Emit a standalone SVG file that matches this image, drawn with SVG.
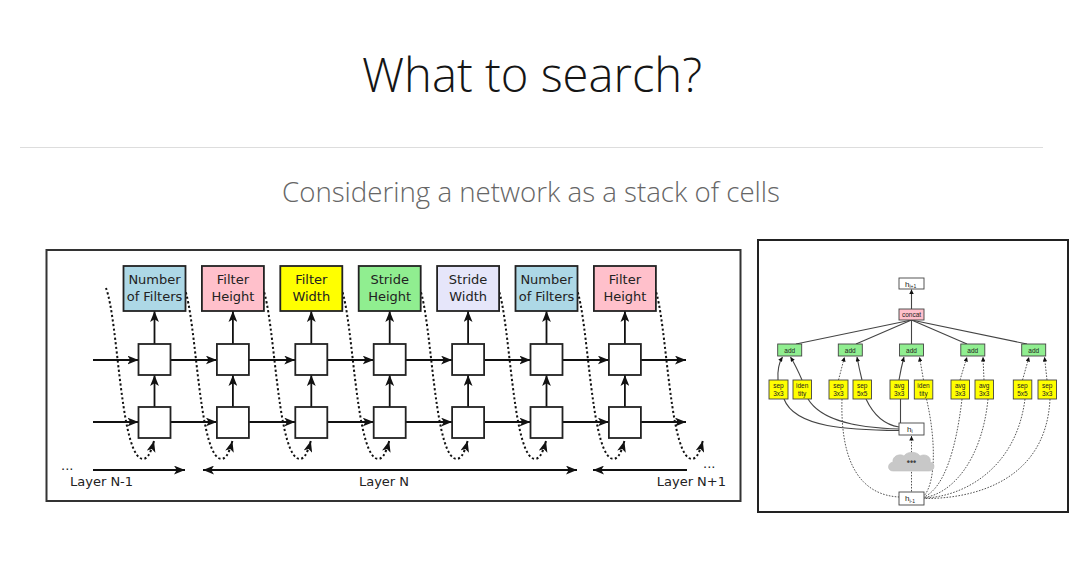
<svg xmlns="http://www.w3.org/2000/svg" width="1080" height="575" viewBox="0 0 1080 575">
<defs>
<style>
.title{font-family:"Open Sans","Liberation Sans",sans-serif;font-weight:300;fill:#151515}
.sub{font-family:"Open Sans","Liberation Sans",sans-serif;font-weight:300;fill:#666}
.bx{stroke:#222;stroke-width:1.8}
.bt{font-family:"DejaVu Sans",sans-serif;font-size:13px;fill:#222;text-anchor:middle}
.cell{fill:#fff;stroke:#222;stroke-width:1.8}
.ln{stroke:#111;stroke-width:1.8;fill:none}
.dot{stroke:#111;stroke-width:2;fill:none;stroke-dasharray:2.2 2.4}
.lt{font-family:"DejaVu Sans",sans-serif;font-size:13px;fill:#222}
.rn{stroke:#444;stroke-width:0.9}
.rt{font-family:"Liberation Sans",Arial,sans-serif;font-size:6.5px;fill:#222;text-anchor:middle}
.rl{stroke:#444;stroke-width:1.1;fill:none}
.rd{stroke:#555;stroke-width:1;fill:none;stroke-dasharray:1.6 1.4}
</style>
<marker id="ah" viewBox="0 0 10 8" refX="10" refY="4" markerWidth="11" markerHeight="9" markerUnits="userSpaceOnUse" orient="auto-start-reverse"><path d="M0,0 L10,4 L0,8 L2.5,4z" fill="#111"/></marker>
<marker id="sa" viewBox="0 0 6 6" refX="6" refY="3" markerWidth="5" markerHeight="4.5" markerUnits="userSpaceOnUse" orient="auto"><path d="M0,0 L6,3 L0,6z" fill="#111"/></marker>
</defs>
<rect width="1080" height="575" fill="#fff"/>
<text class="title" x="362" y="92" font-size="48" textLength="340" lengthAdjust="spacingAndGlyphs">What to search?</text>
<line x1="20" y1="147.5" x2="1043" y2="147.5" stroke="#ddd" stroke-width="1"/>
<text class="sub" x="282" y="202" font-size="27" textLength="498" lengthAdjust="spacingAndGlyphs">Considering a network as a stack of cells</text>

<g id="left-panel">
<rect x="46.5" y="250" width="694" height="251" fill="#fff" stroke="#333" stroke-width="2"/>
</g>

<g id="connectors-left">
<line class="ln" x1="93" y1="360" x2="138.5" y2="360" marker-end="url(#ah)"/>
<line class="ln" x1="170.5" y1="360" x2="216.9" y2="360" marker-end="url(#ah)"/>
<line class="ln" x1="248.9" y1="360" x2="295.3" y2="360" marker-end="url(#ah)"/>
<line class="ln" x1="327.3" y1="360" x2="373.7" y2="360" marker-end="url(#ah)"/>
<line class="ln" x1="405.7" y1="360" x2="452.1" y2="360" marker-end="url(#ah)"/>
<line class="ln" x1="484.1" y1="360" x2="530.5" y2="360" marker-end="url(#ah)"/>
<line class="ln" x1="562.5" y1="360" x2="608.9" y2="360" marker-end="url(#ah)"/>
<line class="ln" x1="640.9" y1="360" x2="686" y2="360" marker-end="url(#ah)"/>
<line class="ln" x1="93" y1="422" x2="138.5" y2="422" marker-end="url(#ah)"/>
<line class="ln" x1="170.5" y1="422" x2="216.9" y2="422" marker-end="url(#ah)"/>
<line class="ln" x1="248.9" y1="422" x2="295.3" y2="422" marker-end="url(#ah)"/>
<line class="ln" x1="327.3" y1="422" x2="373.7" y2="422" marker-end="url(#ah)"/>
<line class="ln" x1="405.7" y1="422" x2="452.1" y2="422" marker-end="url(#ah)"/>
<line class="ln" x1="484.1" y1="422" x2="530.5" y2="422" marker-end="url(#ah)"/>
<line class="ln" x1="562.5" y1="422" x2="608.9" y2="422" marker-end="url(#ah)"/>
<line class="ln" x1="640.9" y1="422" x2="686" y2="422" marker-end="url(#ah)"/>
<line class="ln" x1="154.5" y1="407" x2="154.5" y2="375" marker-end="url(#ah)"/>
<line class="ln" x1="232.9" y1="407" x2="232.9" y2="375" marker-end="url(#ah)"/>
<line class="ln" x1="311.3" y1="407" x2="311.3" y2="375" marker-end="url(#ah)"/>
<line class="ln" x1="389.7" y1="407" x2="389.7" y2="375" marker-end="url(#ah)"/>
<line class="ln" x1="468.1" y1="407" x2="468.1" y2="375" marker-end="url(#ah)"/>
<line class="ln" x1="546.5" y1="407" x2="546.5" y2="375" marker-end="url(#ah)"/>
<line class="ln" x1="624.9" y1="407" x2="624.9" y2="375" marker-end="url(#ah)"/>
<line class="ln" x1="154.5" y1="344" x2="154.5" y2="311" marker-end="url(#ah)"/>
<line class="ln" x1="232.9" y1="344" x2="232.9" y2="311" marker-end="url(#ah)"/>
<line class="ln" x1="311.3" y1="344" x2="311.3" y2="311" marker-end="url(#ah)"/>
<line class="ln" x1="389.7" y1="344" x2="389.7" y2="311" marker-end="url(#ah)"/>
<line class="ln" x1="468.1" y1="344" x2="468.1" y2="311" marker-end="url(#ah)"/>
<line class="ln" x1="546.5" y1="344" x2="546.5" y2="311" marker-end="url(#ah)"/>
<line class="ln" x1="624.9" y1="344" x2="624.9" y2="311" marker-end="url(#ah)"/>
<path class="dot" d="M106,288 C118,320 120,445 140,458 C147,462 151,452 154,441" marker-end="url(#ah)"/>
<path class="dot" d="M184.4,288 C196.4,320 198.4,445 218.4,458 C225.4,462 229.4,452 232.4,441" marker-end="url(#ah)"/>
<path class="dot" d="M262.8,288 C274.8,320 276.8,445 296.8,458 C303.8,462 307.8,452 310.8,441" marker-end="url(#ah)"/>
<path class="dot" d="M341.2,288 C353.2,320 355.2,445 375.2,458 C382.2,462 386.2,452 389.2,441" marker-end="url(#ah)"/>
<path class="dot" d="M419.6,288 C431.6,320 433.6,445 453.6,458 C460.6,462 464.6,452 467.6,441" marker-end="url(#ah)"/>
<path class="dot" d="M498,288 C510,320 512,445 532,458 C539,462 543,452 546,441" marker-end="url(#ah)"/>
<path class="dot" d="M576.4,288 C588.4,320 590.4,445 610.4,458 C617.4,462 621.4,452 624.4,441" marker-end="url(#ah)"/>
<path class="dot" d="M654.8,288 C666.8,320 668.8,445 688.8,458 C695.8,462 699.8,452 702.8,441" marker-end="url(#ah)"/>
<line class="ln" x1="93" y1="470" x2="185" y2="470" marker-end="url(#ah)"/>
<line class="ln" x1="203" y1="470" x2="577" y2="470" marker-start="url(#ah)" marker-end="url(#ah)"/>
<line class="ln" x1="687" y1="470" x2="593" y2="470" marker-end="url(#ah)"/>
</g>

<g id="cells">
<rect class="cell" x="138.5" y="344" width="32" height="31"/><rect class="cell" x="138.5" y="407" width="32" height="31"/>
<rect class="cell" x="216.9" y="344" width="32" height="31"/><rect class="cell" x="216.9" y="407" width="32" height="31"/>
<rect class="cell" x="295.3" y="344" width="32" height="31"/><rect class="cell" x="295.3" y="407" width="32" height="31"/>
<rect class="cell" x="373.7" y="344" width="32" height="31"/><rect class="cell" x="373.7" y="407" width="32" height="31"/>
<rect class="cell" x="452.1" y="344" width="32" height="31"/><rect class="cell" x="452.1" y="407" width="32" height="31"/>
<rect class="cell" x="530.5" y="344" width="32" height="31"/><rect class="cell" x="530.5" y="407" width="32" height="31"/>
<rect class="cell" x="608.9" y="344" width="32" height="31"/><rect class="cell" x="608.9" y="407" width="32" height="31"/>
</g>

<g id="box-num1"><rect class="bx" x="123.5" y="266" width="62" height="45" fill="#add8e6"/><text class="bt" x="154.5" y="284">Number</text><text class="bt" x="154.5" y="301">of Filters</text></g>
<g id="box-fh1"><rect class="bx" x="201.9" y="266" width="62" height="45" fill="#ffc0cb"/><text class="bt" x="232.9" y="284">Filter</text><text class="bt" x="232.9" y="301">Height</text></g>
<g id="box-fw"><rect class="bx" x="280.3" y="266" width="62" height="45" fill="#ffff00"/><text class="bt" x="311.3" y="284">Filter</text><text class="bt" x="311.3" y="301">Width</text></g>
<g id="box-sh"><rect class="bx" x="358.7" y="266" width="62" height="45" fill="#90ee90"/><text class="bt" x="389.7" y="284">Stride</text><text class="bt" x="389.7" y="301">Height</text></g>
<g id="box-sw"><rect class="bx" x="437.1" y="266" width="62" height="45" fill="#e6e6fa"/><text class="bt" x="468.1" y="284">Stride</text><text class="bt" x="468.1" y="301">Width</text></g>
<g id="box-num2"><rect class="bx" x="515.5" y="266" width="62" height="45" fill="#add8e6"/><text class="bt" x="546.5" y="284">Number</text><text class="bt" x="546.5" y="301">of Filters</text></g>
<g id="box-fh2"><rect class="bx" x="593.9" y="266" width="62" height="45" fill="#ffc0cb"/><text class="bt" x="624.9" y="284">Filter</text><text class="bt" x="624.9" y="301">Height</text></g>

<g id="layer-labels">
<text class="lt" x="61" y="470">...</text>
<text class="lt" x="70" y="486">Layer N-1</text>
<text class="lt" x="384" y="486" text-anchor="middle">Layer N</text>
<text class="lt" x="703" y="468">...</text>
<text class="lt" x="726" y="486" text-anchor="end">Layer N+1</text>
</g>

<g id="right-panel">
<rect x="758" y="240" width="310" height="272" fill="#fff" stroke="#222" stroke-width="2"/>
</g>

<g id="connectors-right">
<line class="rl" x1="911.5" y1="309" x2="911.5" y2="289.5" marker-end="url(#sa)"/>
<line class="rl" x1="911.5" y1="320" x2="796" y2="344"/>
<line class="rl" x1="911.5" y1="320" x2="856" y2="344"/>
<line class="rl" x1="911.5" y1="320" x2="911.5" y2="344"/>
<line class="rl" x1="911.5" y1="320" x2="967" y2="344"/>
<line class="rl" x1="911.5" y1="320" x2="1027" y2="344"/>
<path class="rl" d="M778,380 Q777,366 782.5,357" marker-end="url(#sa)"/>
<path class="rl" d="M802,380 Q796,366 790.5,357" marker-end="url(#sa)"/>
<path class="rd" d="M838.5,380 L844.5,357" marker-end="url(#sa)"/>
<path class="rl" d="M862,380 Q859,368 857,357" marker-end="url(#sa)"/>
<path class="rl" d="M899,380 Q901,368 904,357" marker-end="url(#sa)"/>
<path class="rd" d="M923.5,380 L919.5,357" marker-end="url(#sa)"/>
<path class="rd" d="M960,380 L967,357" marker-end="url(#sa)"/>
<path class="rd" d="M984,380 L983,357" marker-end="url(#sa)"/>
<path class="rd" d="M1022.5,380 L1029,357" marker-end="url(#sa)"/>
<path class="rd" d="M1047,380 L1044.5,357" marker-end="url(#sa)"/>
<path class="rl" d="M784,399 C795,428 850,430 899,430.5"/>
<path class="rl" d="M808,399 C822,422 860,428 899,429"/>
<path class="rl" d="M866,399 C874,416 886,425 899,427"/>
<path class="rl" d="M900.5,399 L900.5,423"/>
<path class="rd" d="M842,399 C840,465 862,495 899,497"/>
<path class="rd" d="M926.5,399 C936,440 936,482 924,496"/>
<path class="rd" d="M962,399 C956,450 944,488 924,497"/>
<path class="rd" d="M988,399 C982,460 952,494 924,497.5"/>
<path class="rd" d="M1025,399 C1016,470 962,497 924,498"/>
<path class="rd" d="M1050,399 C1046,482 972,499 924,498.5"/>
<line class="rd" x1="911.5" y1="491.5" x2="911.5" y2="436" marker-end="url(#sa)"/>
</g>

<g id="n-hip1"><rect class="rn" x="899" y="278" width="25" height="11" fill="#fff"/><text font-family="Liberation Sans,Arial,sans-serif" font-size="8" fill="#222" x="905" y="286.5">h<tspan font-size="5" dy="1.5">i+1</tspan></text></g>
<g id="n-concat"><rect class="rn" x="899" y="309" width="25" height="11" fill="#ffc0cb"/><text class="rt" x="911.5" y="316.8">concat</text></g>
<g id="n-add1"><rect class="rn" x="777.7" y="344" width="24" height="12" fill="#90ee90"/><text class="rt" x="789.7" y="352.5">add</text></g>
<g id="n-add2"><rect class="rn" x="838.3" y="344" width="24" height="12" fill="#90ee90"/><text class="rt" x="850.3" y="352.5">add</text></g>
<g id="n-add3"><rect class="rn" x="899.5" y="344" width="24" height="12" fill="#90ee90"/><text class="rt" x="911.5" y="352.5">add</text></g>
<g id="n-add4"><rect class="rn" x="960.8" y="344" width="24" height="12" fill="#90ee90"/><text class="rt" x="972.8" y="352.5">add</text></g>
<g id="n-add5"><rect class="rn" x="1021.7" y="344" width="24" height="12" fill="#90ee90"/><text class="rt" x="1033.7" y="352.5">add</text></g>

<g id="op-1"><rect class="rn" x="769" y="380" width="19" height="19" fill="#ffff00"/><text class="rt" x="778.5" y="388">sep</text><text class="rt" x="778.5" y="396">3x3</text></g>
<g id="op-2"><rect class="rn" x="793" y="380" width="18.5" height="19" fill="#ffff00"/><text class="rt" x="802.2" y="388">iden</text><text class="rt" x="802.2" y="396">tity</text></g>
<g id="op-3"><rect class="rn" x="829" y="380" width="19" height="19" fill="#ffff00"/><text class="rt" x="838.5" y="388">sep</text><text class="rt" x="838.5" y="396">3x3</text></g>
<g id="op-4"><rect class="rn" x="853" y="380" width="18.5" height="19" fill="#ffff00"/><text class="rt" x="862.2" y="388">sep</text><text class="rt" x="862.2" y="396">5x5</text></g>
<g id="op-5"><rect class="rn" x="890" y="380" width="18.5" height="19" fill="#ffff00"/><text class="rt" x="899.2" y="388">avg</text><text class="rt" x="899.2" y="396">3x3</text></g>
<g id="op-6"><rect class="rn" x="914.3" y="380" width="18.5" height="19" fill="#ffff00"/><text class="rt" x="923.5" y="388">iden</text><text class="rt" x="923.5" y="396">tity</text></g>
<g id="op-7"><rect class="rn" x="951" y="380" width="18.5" height="19" fill="#ffff00"/><text class="rt" x="960.2" y="388">avg</text><text class="rt" x="960.2" y="396">3x3</text></g>
<g id="op-8"><rect class="rn" x="975" y="380" width="18.5" height="19" fill="#ffff00"/><text class="rt" x="984.2" y="388">avg</text><text class="rt" x="984.2" y="396">3x3</text></g>
<g id="op-9"><rect class="rn" x="1013.3" y="380" width="18.5" height="19" fill="#ffff00"/><text class="rt" x="1022.5" y="388">sep</text><text class="rt" x="1022.5" y="396">5x5</text></g>
<g id="op-10"><rect class="rn" x="1038" y="380" width="18.5" height="19" fill="#ffff00"/><text class="rt" x="1047.2" y="388">sep</text><text class="rt" x="1047.2" y="396">3x3</text></g>

<g id="n-hi"><rect class="rn" x="899" y="423" width="25" height="12" fill="#fff"/><text font-family="Liberation Sans,Arial,sans-serif" font-size="8" fill="#222" x="907" y="431.5">h<tspan font-size="5" dy="1.5">i</tspan></text></g>
<g id="n-cloud"><path d="M893,471 C887,471 887,463 893,462 C892,456 900,453 904,456 C907,451 917,451 920,456 C925,453 932,457 930,462 C936,463 935,471 929,471 Z" fill="#c8c8c8" stroke="#c0c0c0" stroke-width="0.6"/><text font-family="Liberation Sans,Arial,sans-serif" font-size="9" font-weight="bold" fill="#444" x="911.5" y="465" text-anchor="middle">•••</text></g>
<g id="n-him1"><rect class="rn" x="899" y="492" width="25" height="13" fill="#fff"/><text font-family="Liberation Sans,Arial,sans-serif" font-size="8" fill="#222" x="905" y="501">h<tspan font-size="5" dy="1.5">i-1</tspan></text></g>
</svg>
